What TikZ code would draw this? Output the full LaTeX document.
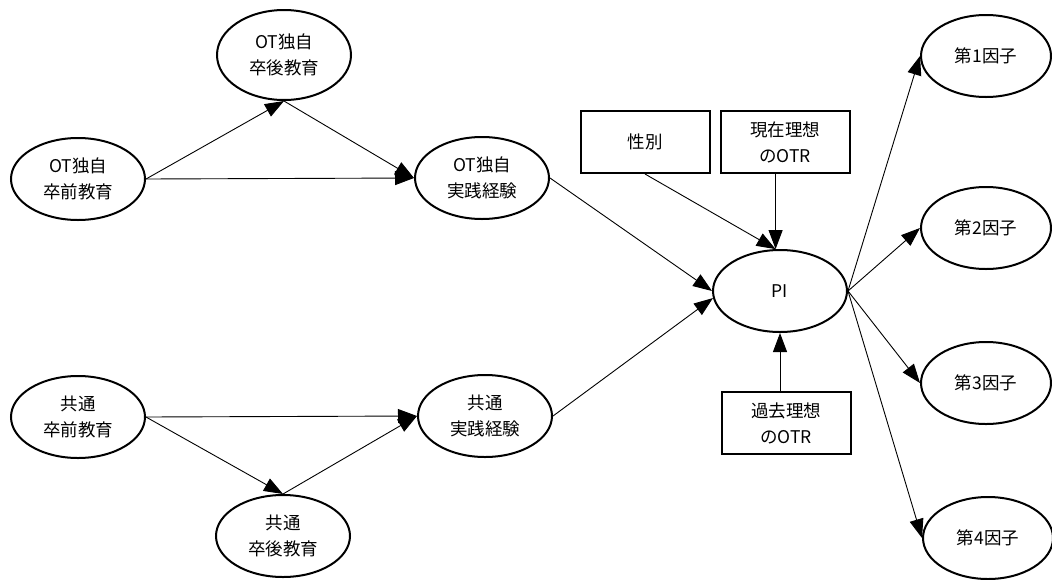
\documentclass[tikz,border=0pt]{standalone}
\usepackage{fontspec}
\newfontfamily\jpfont{Noto Sans CJK JP}
\usetikzlibrary{shapes.geometric,arrows.meta,calc}
\begin{document}
\begin{tikzpicture}[x=1pt,y=-1pt,
  lbl/.style={font=\jpfont\fontsize{17.5}{26}\selectfont,align=center},
  oval/.style={lbl,draw,line width=2pt,ellipse,minimum width=134pt,minimum height=82pt,inner sep=0pt},
  rbox/.style={lbl,draw,line width=2pt,rectangle,minimum width=129pt,minimum height=62pt,inner sep=0pt},
  arr/.style={-{Triangle[length=19pt,width=14pt]},line width=0.9pt}]
\useasboundingbox (0,0) rectangle (1052,579);
% ellipses
\node[oval,minimum height=90pt] (otpost) at (284,55) {OT独自\\卒後教育};
\node[oval] (otpre) at (78,179) {OT独自\\卒前教育};
\node[oval] (otprac) at (482,178) {OT独自\\実践経験};
\node[oval] (pi) at (780,291) {PI};
\node[oval] (cmpre) at (78,417) {共通\\卒前教育};
\node[oval] (cmprac) at (485,416) {共通\\実践経験};
\node[oval] (cmpost) at (283,536) {共通\\卒後教育};
\node[oval,minimum width=130pt] (f1) at (986,56) {第1因子};
\node[oval,minimum width=130pt] (f2) at (986,228) {第2因子};
\node[oval,minimum width=130pt] (f3) at (986,383) {第3因子};
\node[oval,minimum width=130pt] (f4) at (988,538) {第4因子};
% boxes
\node[rbox] (sex) at (645,142) {性別};
\node[rbox] (now) at (785,142) {現在理想\\のOTR};
\node[rbox] (past) at (786,423) {過去理想\\のOTR};
% connectors
\draw[arr] (otpre.east) -- (otpost.south);
\draw[arr] (otpre.east) -- (otprac.west);
\draw[arr] (otpost.south) -- (otprac.west);
\draw[arr] (otprac.east) -- (pi.180);
\draw[arr] (cmprac.east) -- (pi.186);
\draw[arr] (cmpre.east) -- (cmprac.west);
\draw[arr] (cmpre.east) -- (cmpost.north);
\draw[arr] (cmpost.north) -- (cmprac.west);
\draw[arr] (sex.south) -- (pi.96);
\draw[arr] (pi.96 |- now.south) -- (pi.96);
\draw[arr] (pi.south |- past.north) -- (pi.south);
\draw[arr] (pi.east) -- (f1.west);
\draw[arr] (pi.east) -- (f2.west);
\draw[arr] (pi.east) -- (f3.west);
\draw[arr] (pi.east) -- (f4.west);
\end{tikzpicture}
\end{document}
